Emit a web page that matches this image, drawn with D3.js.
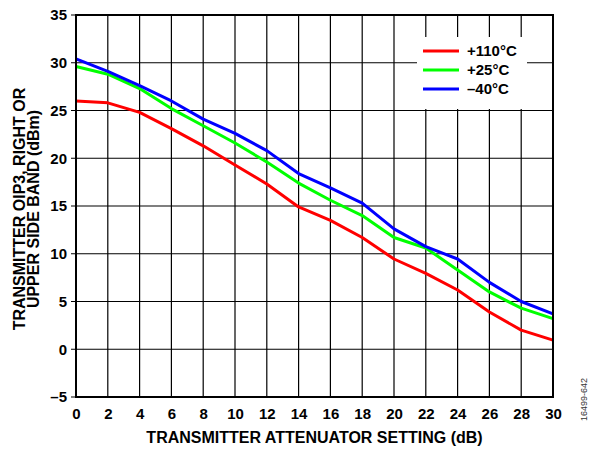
<!DOCTYPE html>
<html>
<head>
<meta charset="utf-8">
<script src="https://cdn.jsdelivr.net/npm/d3@7"></script>
<style>
  body { margin: 0; background: #fff; }
  text { font-family: Arial, "Liberation Sans", sans-serif; font-weight: bold; fill: #000; }
</style>
</head>
<body>
<svg id="chart" width="596" height="449"></svg>
<script>
// attenuator settings (dB)
const atten = [0, 2, 4, 6, 8, 10, 12, 14, 16, 18, 20, 22, 24, 26, 28, 30];
// OIP3 (dBm) per temperature
const oip3Hot = [26.0, 25.8, 24.8, 23.1, 21.3, 19.3, 17.3, 14.9, 13.5, 11.7, 9.45, 7.95, 6.2, 3.9, 2.0, 0.95];
const oip3Room = [29.6, 28.8, 27.3, 25.2, 23.4, 21.6, 19.6, 17.4, 15.6, 14.0, 11.7, 10.6, 8.3, 6.0, 4.3, 3.2];
const oip3Cold = [30.4, 29.1, 27.6, 26.0, 24.1, 22.6, 20.8, 18.4, 16.9, 15.3, 12.6, 10.75, 9.45, 7.0, 5.0, 3.7];
const seriesNames = ["+110°C", "+25°C", "\u201340°C"];
const xTicks = d3.range(0, 31, 2);
const yTicks = d3.range(-5, 36, 5);

const series = [
  { name: seriesNames[0], values: oip3Hot, color: "#ff0000" },
  { name: seriesNames[1], values: oip3Room, color: "#00ff00" },
  { name: seriesNames[2], values: oip3Cold, color: "#0000ff" }
];

//Layout of the plot area
const margin = { left: 76, top: 15, right: 43, bottom: 52 };
const svg = d3.select("#chart");
const width = +svg.attr("width") - margin.left - margin.right;
const height = +svg.attr("height") - margin.top - margin.bottom;

const x = d3.scaleLinear().domain([0, 30]).range([0, width]);
const y = d3.scaleLinear().domain([-5, 35]).range([height, 0]);

const g = svg.append("g")
  .attr("transform", "translate(" + margin.left + "," + margin.top + ")");

//Grid lines
g.append("g")
  .attr("class", "grid")
  .selectAll("line.v")
  .data(xTicks)
  .join("line")
  .attr("x1", (d) => x(d)).attr("x2", (d) => x(d))
  .attr("y1", 0).attr("y2", height)
  .attr("stroke", "#000").attr("stroke-width", 1.2);

g.append("g")
  .attr("class", "grid")
  .selectAll("line.h")
  .data(yTicks)
  .join("line")
  .attr("x1", -5).attr("x2", width)
  .attr("y1", (d) => y(d)).attr("y2", (d) => y(d))
  .attr("stroke", "#000").attr("stroke-width", 1.2);

//Axes (labels only, grid does the lines)
const xAxis = g.append("g")
  .attr("transform", "translate(0," + height + ")")
  .call(d3.axisBottom(x).tickValues(xTicks).tickSize(0).tickPadding(11));
const yAxis = g.append("g")
  .call(d3.axisLeft(y).tickValues(yTicks).tickSize(0).tickPadding(9)
    .tickFormat((d) => (d < 0 ? "\u2013" + Math.abs(d) : d)));
[xAxis, yAxis].forEach((a) => {
  a.select(".domain").remove();
  a.selectAll("text").style("font-size", "15px").style("font-family", "Arial, 'Liberation Sans', sans-serif").style("font-weight", "bold");
});

//Legend box masks the grid
const legend = g.append("g").attr("transform", "translate(" + (417 - margin.left) + "," + (37 - margin.top) + ")");
legend.append("rect").attr("width", 110).attr("height", 72).attr("fill", "#fff");

//Data lines
const line = d3.line()
  .x((d, i) => x(atten[i]))
  .y((d) => y(d));

g.selectAll("path.series")
  .data(series)
  .join("path")
  .attr("class", "series")
  .attr("d", (d) => line(d.values))
  .attr("fill", "none")
  .attr("stroke", (d) => d.color)
  .attr("stroke-width", 3)
  .attr("stroke-linejoin", "round");

//Legend entries
series.forEach((s, i) => {
  const ly = 14 + i * 19;
  legend.append("line")
    .attr("x1", 6).attr("x2", 42).attr("y1", ly).attr("y2", ly)
    .attr("stroke", s.color).attr("stroke-width", 3);
  legend.append("text")
    .attr("x", 50).attr("y", ly + 5)
    .style("font-size", "15px")
    .text(s.name);
});

//Plot frame
g.append("rect")
  .attr("width", width).attr("height", height)
  .attr("fill", "none").attr("stroke", "#000").attr("stroke-width", 2);

//Axis titles
svg.append("text")
  .attr("x", margin.left + width / 2).attr("y", 443)
  .attr("text-anchor", "middle")
  .style("font-size", "16px")
  .text("TRANSMITTER ATTENUATOR SETTING (dB)");

const yTitle = svg.append("text")
  .attr("transform", "translate(0," + (margin.top + height / 2 + 3) + ") rotate(-90)")
  .attr("text-anchor", "middle")
  .style("font-size", "16px");
yTitle.append("tspan").attr("x", 0).attr("y", 25).text("TRANSMITTER OIP3, RIGHT OR");
yTitle.append("tspan").attr("x", 0).attr("y", 39).text("UPPER SIDE BAND (dBm)");

//Figure id
svg.append("text")
  .attr("transform", "translate(587,421) rotate(-90)")
  .style("font-size", "9px").style("font-weight", "normal").style("fill", "#333")
  .text("16499-642");
</script>
</body>
</html>
